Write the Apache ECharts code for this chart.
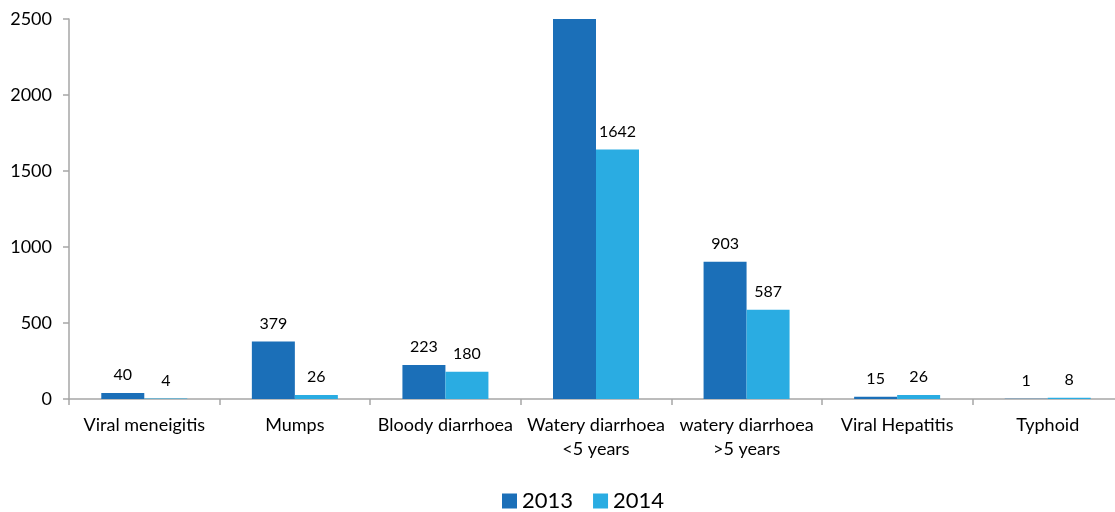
<!DOCTYPE html>
<html>
<head>
<meta charset="utf-8">
<script src="https://cdn.jsdelivr.net/npm/echarts@6/dist/echarts.min.js"></script>
<style>
  html, body { margin: 0; padding: 0; background: #fff; }
  #main { width: 1115px; height: 512px; }
</style>
</head>
<body>
<div id="main"></div>
<script>
  const categories = ['Viral meneigitis', 'Mumps', 'Bloody diarrhoea', 'Watery diarrhoea\n<5 years',
    'watery diarrhoea\n>5 years', 'Viral Hepatitis', 'Typhoid']
  // 2013 watery <5 runs off the top of the axis in the original, no label shown
  const values2013 = [40, 379, 223, 2600, 903, 15, 1]
  const values2014 = [4, 26, 180, 1642, 587, 26, 8]
  const hiddenLabel2013 = [3]
  const yTicks = [0, 500, 1000, 1500, 2000, 2500]

  const font = 'Lato, "Open Sans", sans-serif'
  const axisColor = '#a6a6a6'

  let chart = echarts.init(document.getElementById('main'))

  let label = {
    show: true,
    position: 'top',
    distance: 10,
    color: '#000',
    fontSize: 16,
    fontFamily: font
  }

  let option = {
    animation: false,
    // plot runs a little past the right edge, like the original
    grid: { left: 69, width: 1054, top: 19, bottom: 113, containLabel: false, outerBoundsMode: 'none' },
    legend: {
      top: 485,
      left: 497,
      itemWidth: 15,
      itemHeight: 15,
      itemGap: 20,
      icon: 'rect',
      textStyle: { fontSize: 22, color: '#000', fontFamily: font }
    },
    xAxis: {
      type: 'category',
      data: categories,
      axisLine: { lineStyle: { color: axisColor, width: 1.5 } },
      axisTick: { show: true, length: 6, lineStyle: { color: axisColor, width: 1.5 } },
      axisLabel: { color: '#000', fontSize: 18, fontFamily: font, margin: 14, lineHeight: 24, interval: 0 }
    },
    yAxis: {
      type: 'value',
      min: yTicks[0],
      max: yTicks[yTicks.length - 1],
      interval: 500,
      splitLine: { show: false },
      axisLine: { show: true, lineStyle: { color: axisColor, width: 1.5 } },
      axisTick: { show: true, length: 6, lineStyle: { color: axisColor, width: 1.5 } },
      axisLabel: { color: '#000', fontSize: 18, fontFamily: font, margin: 17, formatter: v => String(v) }
    },
    series: [
      {
        name: '2013',
        type: 'bar',
        barWidth: 43,
        barGap: '0%',
        itemStyle: { color: '#1b6fb8' },
        label: label,
        data: values2013.map((v, i) => hiddenLabel2013.includes(i) ? { value: v, label: { show: false } } : v)
      },
      {
        name: '2014',
        type: 'bar',
        barWidth: 43,
        barGap: '0%',
        itemStyle: { color: '#2aace2' },
        label: label,
        data: values2014
      }
    ]
  }
  chart.setOption(option)
</script>
</body>
</html>
